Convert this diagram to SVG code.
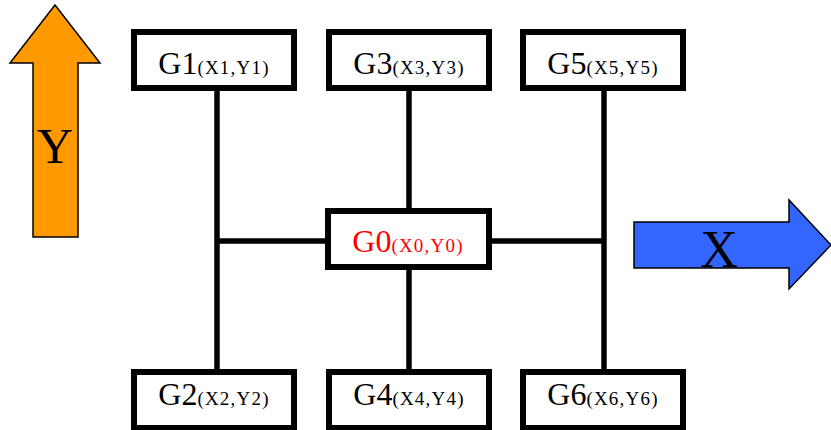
<svg xmlns="http://www.w3.org/2000/svg" width="831" height="430" viewBox="0 0 831 430">
<style>
.box{fill:#fff;stroke:#000;stroke-width:6}
.ln{stroke:#000;stroke-width:5.5;fill:none}
.lbl{font-family:"Liberation Serif","Times New Roman",serif;text-anchor:middle;fill:#000}
.g{font-size:32px}
.c{font-size:19px;letter-spacing:1.2px}
.red{fill:#ff0000}
.arr{stroke:#000;stroke-width:1.5}
</style>
<rect width="831" height="430" fill="#fff"/>
<g id="connectors">
<line class="ln" x1="217" y1="88" x2="217" y2="372"/>
<line class="ln" x1="409" y1="88" x2="409" y2="372"/>
<line class="ln" x1="604" y1="88" x2="604" y2="372"/>
<line class="ln" x1="217" y1="241" x2="604" y2="241"/>
</g>
<g id="yaxis">
<polygon class="arr" fill="#ff9900" points="55,5 100,63 78,63 78,237 33,237 33,63 10,63"/>
<text class="lbl" x="55" y="163" font-size="50">Y</text>
</g>
<g id="xaxis">
<polygon class="arr" fill="#3366ff" points="634,222 789,222 789,200 831,245 789,289 789,268 634,268"/>
<text class="lbl" x="719" y="267" font-size="52">X</text>
</g>
<g id="G1">
<rect class="box" x="134" y="32" width="160" height="56"/>
<text class="lbl" x="214" y="74"><tspan class="g">G1</tspan><tspan class="c">(X1,Y1)</tspan></text>
</g>
<g id="G3">
<rect class="box" x="329" y="32" width="160" height="56"/>
<text class="lbl" x="409" y="74"><tspan class="g">G3</tspan><tspan class="c">(X3,Y3)</tspan></text>
</g>
<g id="G5">
<rect class="box" x="523" y="32" width="160" height="56"/>
<text class="lbl" x="603" y="74"><tspan class="g">G5</tspan><tspan class="c">(X5,Y5)</tspan></text>
</g>
<g id="G0">
<rect class="box" x="328" y="211" width="161" height="56"/>
<text class="lbl red" x="408" y="252"><tspan class="g">G0</tspan><tspan class="c">(X0,Y0)</tspan></text>
</g>
<g id="G2">
<rect class="box" x="134" y="372" width="160" height="56"/>
<text class="lbl" x="214" y="405"><tspan class="g">G2</tspan><tspan class="c">(X2,Y2)</tspan></text>
</g>
<g id="G4">
<rect class="box" x="329" y="372" width="160" height="56"/>
<text class="lbl" x="409" y="405"><tspan class="g">G4</tspan><tspan class="c">(X4,Y4)</tspan></text>
</g>
<g id="G6">
<rect class="box" x="523" y="372" width="160" height="56"/>
<text class="lbl" x="603" y="405"><tspan class="g">G6</tspan><tspan class="c">(X6,Y6)</tspan></text>
</g>
</svg>
